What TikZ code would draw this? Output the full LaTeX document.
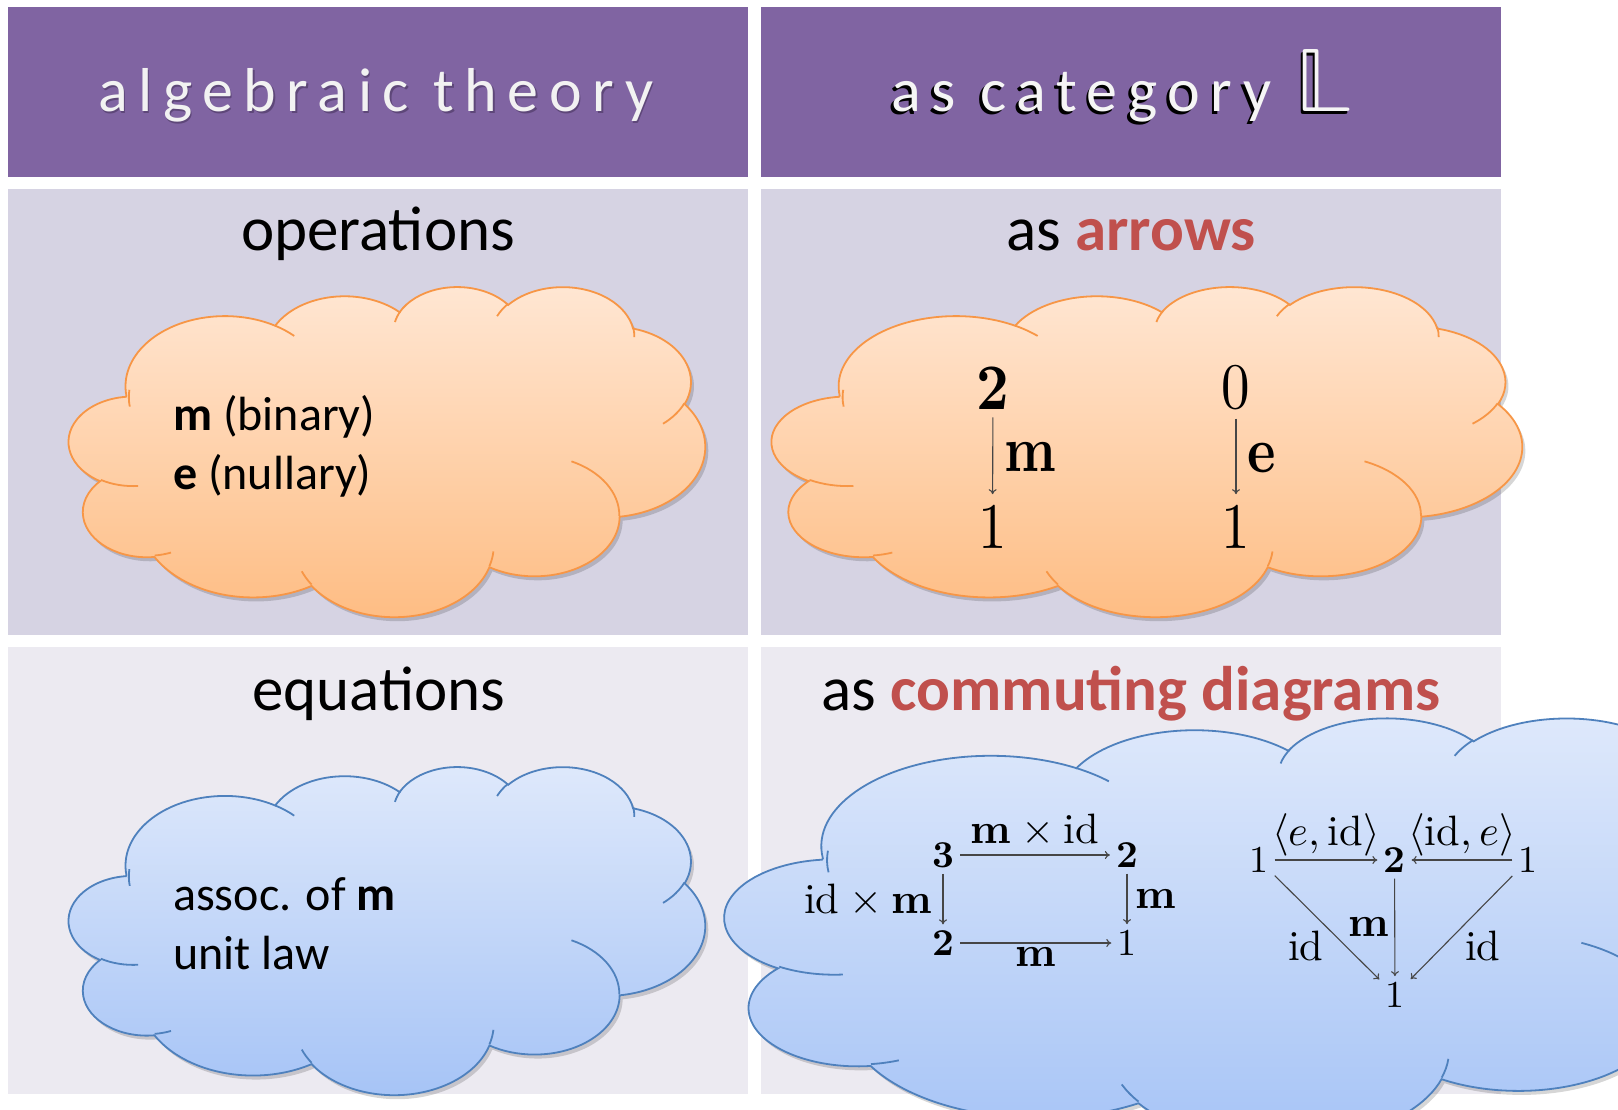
\documentclass[tikz,border=0pt]{standalone}
\usepackage{graphicx}
\usepackage{fontspec}
\usepackage{unicode-math}
\setmainfont{Carlito}
\newfontfamily\hfont[LetterSpace=17]{Carlito}
\usetikzlibrary{arrows.meta}
\definecolor{hdr}{RGB}{128,100,162}
\definecolor{rowA}{RGB}{214,211,227}
\definecolor{rowB}{RGB}{236,234,241}
\definecolor{redtxt}{RGB}{192,80,77}
\definecolor{orTop}{RGB}{255,231,212}
\definecolor{orBot}{RGB}{254,188,130}
\definecolor{orLine}{RGB}{247,150,70}
\definecolor{blTop}{RGB}{223,233,251}
\definecolor{blBot}{RGB}{165,195,246}
\definecolor{blLine}{RGB}{79,129,189}
\definecolor{hshadow}{RGB}{80,60,105}
\definecolor{arrc}{RGB}{70,70,70}
\newcommand\defarc[5]{%
  \pgfmathsetmacro\tmpA{atan2((#2)*sin(#4),(#3)*cos(#4))}%
  \pgfmathsetmacro\tmpB{atan2((#2)*sin((#4)+(#5)),(#3)*cos((#4)+(#5)))}%
  \pgfmathsetmacro\tmpD{Mod((\tmpB)-(\tmpA),360)}%
  \pgfmathsetmacro\tmpS{0-(\tmpA)}%
  \pgfmathsetmacro\tmpN{0-(\tmpD)}%
  \expandafter\xdef\csname #1s\endcsname{\tmpS}%
  \expandafter\xdef\csname #1d\endcsname{\tmpN}%
}
\newcommand\cldout{(3.9,-14.37)
  arc[x radius=6.753,y radius=9.190,start angle=\oAs,delta angle=\oAd]
  arc[x radius=5.333,y radius=7.267,start angle=\oBs,delta angle=\oBd]
  arc[x radius=4.365,y radius=5.945,start angle=\oCs,delta angle=\oCd]
  arc[x radius=4.857,y radius=6.595,start angle=\oDs,delta angle=\oDd]
  arc[x radius=5.333,y radius=7.273,start angle=\oEs,delta angle=\oEd]
  arc[x radius=6.775,y radius=9.220,start angle=\oFs,delta angle=\oFd]
  arc[x radius=5.785,y radius=7.867,start angle=\oGs,delta angle=\oGd]
  arc[x radius=6.752,y radius=9.215,start angle=\oHs,delta angle=\oHd]
  arc[x radius=7.720,y radius=10.543,start angle=\oIs,delta angle=\oId]
  arc[x radius=4.360,y radius=5.918,start angle=\oJs,delta angle=\oJd]
  arc[x radius=4.345,y radius=5.945,start angle=\oKs,delta angle=\oKd]
  -- cycle}
\newcommand\cldin{%
  (4.693,-26.177) arc[x radius=4.345,y radius=5.945,start angle=\iAs,delta angle=\iAd]
  (6.928,-34.899) arc[x radius=4.360,y radius=5.918,start angle=\iBs,delta angle=\iBd]
  (16.478,-39.090) arc[x radius=6.752,y radius=9.215,start angle=\iCs,delta angle=\iCd]
  (28.827,-34.751) arc[x radius=6.752,y radius=9.215,start angle=\iDs,delta angle=\iDd]
  (34.129,-22.954) arc[x radius=5.785,y radius=7.867,start angle=\iEs,delta angle=\iEd]
  (41.798,-15.354) arc[x radius=5.333,y radius=7.273,start angle=\iFs,delta angle=\iFd]
  (38.324,-5.426) arc[x radius=4.857,y radius=6.595,start angle=\iGs,delta angle=\iGd]
  (29.078,-3.952) arc[x radius=4.857,y radius=6.595,start angle=\iHs,delta angle=\iHd]
  (22.141,-4.720) arc[x radius=4.365,y radius=5.945,start angle=\iIs,delta angle=\iId]
  (14.000,-5.192) arc[x radius=6.753,y radius=9.190,start angle=\iJs,delta angle=\iJd]
  (4.127,-15.789) arc[x radius=6.753,y radius=9.190,start angle=\iKs,delta angle=\iKd]}
% #1 X0, #2 Y0, #3 W, #4 H, #5 top colour, #6 bottom colour, #7 line colour
\newcommand\drawcloud[7]{%
  \begin{scope}[shift={(#1+3,#2+4)}, xscale=#3/43.2, yscale=#4/43.2, y=1pt]
    \fill[black, opacity=0.16] \cldout;
  \end{scope}
  \begin{scope}[shift={(#1,#2)}, xscale=#3/43.2, yscale=#4/43.2, y=1pt]
    \path[draw=#7, line width=1.8pt, top color=#5, bottom color=#6] \cldout;
    \draw[#7, line width=1.8pt] \cldin;
  \end{scope}}
\newcommand\bbL{\resizebox{57pt}{62pt}{$\mathbb{L}$}}
\begin{document}
\begin{tikzpicture}[x=1pt, y=-1pt,
  ttl/.style={anchor=base, inner sep=0pt, font=\fontsize{63}{70}\selectfont},
  ctxt/.style={anchor=base west, inner sep=0pt, font=\fontsize{48}{57}\selectfont},
  htxt/.style={anchor=base west, inner sep=0pt, font=\hfont\fontsize{62}{70}\selectfont},
  dig/.style={inner sep=6pt, font=\fontsize{38}{40}\selectfont},
  lbl/.style={inner sep=3pt, font=\fontsize{42.5}{46}\selectfont},
  odig/.style={inner sep=8pt, font=\fontsize{57}{60}\selectfont},
  olbl/.style={inner sep=0pt, font=\fontsize{54}{58}\selectfont},
  mar/.style={draw=arrc, line width=1.1pt, -{To[length=5pt,width=8pt]}}]
\defarc{oA}{6.753}{9.190}{-190.48749}{123.78053}
\defarc{oB}{5.333}{7.267}{-144.10238}{89.94523}
\defarc{oC}{4.365}{5.945}{-145.80792}{99.72302}
\defarc{oD}{4.857}{6.595}{-130.98607}{117.24173}
\defarc{oE}{5.333}{7.273}{-78.70888}{109.02692}
\defarc{oF}{6.775}{9.220}{-46.26725}{130.26900}
\defarc{oG}{5.785}{7.867}{0.62502}{114.03333}
\defarc{oH}{6.752}{9.215}{22.45160}{115.17255}
\defarc{oI}{7.720}{10.543}{66.24263}{75.71102}
\defarc{oJ}{4.360}{5.918}{-274.94208}{146.73557}
\defarc{oK}{4.345}{5.945}{-246.82850}{152.51885}
\defarc{iA}{4.345}{5.945}{86.74200}{26.42950}
\defarc{iB}{4.360}{5.918}{73.61047}{11.44747}
\defarc{iC}{6.752}{9.215}{137.62415}{14.08110}
\defarc{iD}{6.752}{9.215}{6.45327}{15.99835}
\defarc{iE}{5.785}{7.867}{-70.29235}{70.91737}
\defarc{iF}{5.333}{7.273}{30.31803}{27.75150}
\defarc{iG}{4.857}{6.595}{-13.74433}{14.85890}
\defarc{iH}{4.857}{6.595}{-149.18145}{18.19537}
\defarc{iI}{4.365}{5.945}{-163.49427}{17.68635}
\defarc{iJ}{6.753}{9.190}{-66.70695}{12.31935}
\defarc{iK}{6.753}{9.190}{-190.48749}{18.61567}
\path[use as bounding box] (0,0) rectangle (1618,1110);
\clip (0,0) rectangle (1618,1110);
\fill[white] (0,0) rectangle (1618,1110);
% panels
\fill[hdr] (8.3,7) rectangle (748,176.7);
\fill[hdr] (760.5,7) rectangle (1500.5,176.7);
\fill[rowA] (8.3,189) rectangle (748,634.5);
\fill[rowA] (760.5,189) rectangle (1500.5,634.5);
\fill[rowB] (8.3,647) rectangle (748,1093.5);
\fill[rowB] (760.5,647) rectangle (1500.5,1093.5);
% headers
\node[htxt, text=hshadow, opacity=0.7] (tAlgSh) at (99.5,114) {algebraic theory};
\node[htxt, text=white!95!black] (tAlg) at (98,112) {algebraic theory};
\node[htxt, text=black] (tCatSh) at (888.5,114.5) {as category \bbL};
\node[htxt, text=white!96!black] (tCat) at (891,112) {as category \bbL};
% section titles
\node[ttl] (tOps) at (378,251) {operations};
\node[ttl] (tArr) at (1131,251) {as \textcolor{redtxt}{\bfseries arrows}};
\node[ttl] (tEqs) at (379,710) {equations};
% clouds
\drawcloud{69}{286}{636}{330}{orTop}{orBot}{orLine}
\drawcloud{772}{286}{750}{330}{orTop}{orBot}{orLine}
\drawcloud{69}{766}{636}{328}{blTop}{blBot}{blLine}
\node[ttl] (tCom) at (1131,710) {as \textcolor{redtxt}{\bfseries commuting diagrams}};
\drawcloud{725}{717}{1084}{425}{blTop}{blBot}{blLine}
% left cloud texts
\node[ctxt] (cm) at (173,430) {\textbf{m} (binary)};
\node[ctxt] (ce) at (173,489) {\textbf{e} (nullary)};
\node[ctxt] (ca) at (173,910) {assoc. of \textbf{m}};
\node[ctxt] (cu) at (173,969) {unit law};
% arrows in orange cloud
\node[odig] (o2) at (993,388) {\scalebox{1}[1.14]{$\symbf{2}$}};
\node[odig] (o1) at (992.5,527) {\scalebox{1}[1.14]{$1$}};
\node[odig] (o0) at (1236,388) {\scalebox{1}[1.14]{$0$}};
\node[odig] (o1b) at (1236,527) {\scalebox{1}[1.14]{$1$}};
\draw[mar, shorten >=3pt] (o2) -- node[olbl, right=11pt] {\scalebox{1}[1.2]{$\symbf{m}$}} (o1);
\draw[mar, shorten >=3pt] (o0) -- node[olbl, right=11pt] {\scalebox{1}[1.2]{$\symbf{e}$}} (o1b);
% commuting square
\node[dig] (q3) at (943,855) {$\symbf{3}$};
\node[dig] (q2a) at (1127,855) {$\symbf{2}$};
\node[dig] (q2b) at (943,943) {$\symbf{2}$};
\node[dig] (q1) at (1127,943) {$1$};
\draw[mar] (q3) -- node[lbl, above=7pt] {$\symbf{m}\times\symup{id}$} (q2a);
\draw[mar] (q3) -- node[lbl, left=7pt] {$\symup{id}\times\symbf{m}$} (q2b);
\draw[mar] (q2a) -- node[lbl, right=5pt] {$\symbf{m}$} (q1);
\draw[mar] (q2b) -- node[lbl, below=1pt] {$\symbf{m}$} (q1);
% unit triangle
\node[dig] (t1) at (1259,860) {$1$};
\node[dig] (t2) at (1394.5,860) {$\symbf{2}$};
\node[dig] (t3) at (1528,860) {$1$};
\node[dig] (t4) at (1395,995) {$1$};
\draw[mar] (t1) -- node[lbl, above=0pt] {$\langle e,\symup{id}\rangle$} (t2);
\draw[mar] (t3) -- node[lbl, above=0pt] {$\langle\symup{id},e\rangle$} (t2);
\draw[mar] (t1) -- node[lbl, anchor=north east] {$\symup{id}$} (t4);
\draw[mar] (t2) -- node[lbl, left=2pt] {$\symbf{m}$} (t4);
\draw[mar] (t3) -- node[lbl, anchor=north west] {$\symup{id}$} (t4);
\end{tikzpicture}
\end{document}
